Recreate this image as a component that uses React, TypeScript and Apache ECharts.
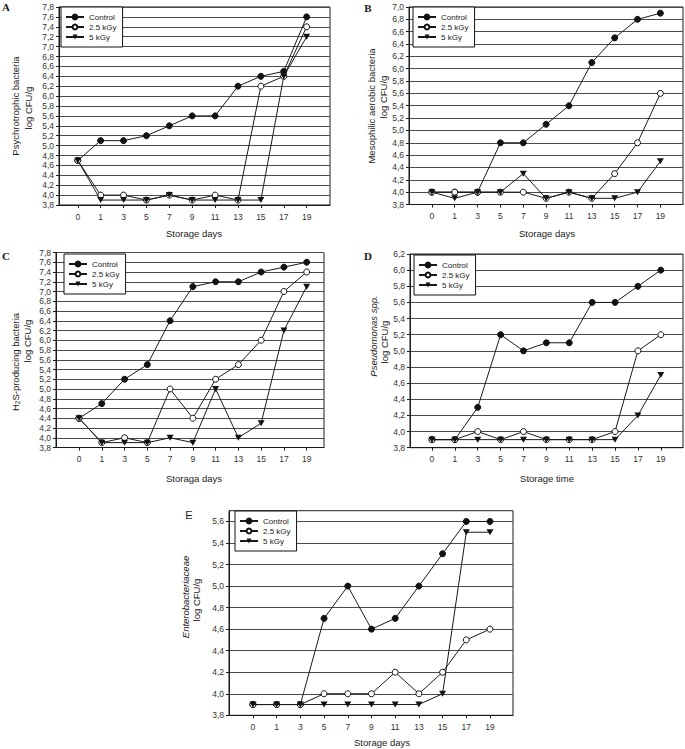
import React, { useEffect, useRef } from "react";
import * as echarts from "echarts";

// ---------- data ----------
const days = ["0", "1", "3", "5", "7", "9", "11", "13", "15", "17", "19"];
const seriesNames = ["Control", "2.5 kGy", "5 kGy"];

// A: Psychrotrophic bacteria
const aControl = [4.7, 5.1, 5.1, 5.2, 5.4, 5.6, 5.6, 6.2, 6.4, 6.5, 7.6];
const a25 = [4.7, 4.0, 4.0, 3.9, 4.0, 3.9, 4.0, 3.9, 6.2, 6.4, 7.4];
const a5 = [4.7, 3.9, 3.9, 3.9, 4.0, 3.9, 3.9, 3.9, 3.9, 6.4, 7.2];

// B: Mesophilic aerobic bacteria
const bControl = [4.0, 4.0, 4.0, 4.8, 4.8, 5.1, 5.4, 6.1, 6.5, 6.8, 6.9];
const b25 = [4.0, 4.0, 4.0, 4.0, 4.0, 3.9, 4.0, 3.9, 4.3, 4.8, 5.6];
const b5 = [4.0, 3.9, 4.0, 4.0, 4.3, 3.9, 4.0, 3.9, 3.9, 4.0, 4.5];

// C: H2S-producing bacteria
const cControl = [4.4, 4.7, 5.2, 5.5, 6.4, 7.1, 7.2, 7.2, 7.4, 7.5, 7.6];
const c25 = [4.4, 3.9, 4.0, 3.9, 5.0, 4.4, 5.2, 5.5, 6.0, 7.0, 7.4];
const c5 = [4.4, 3.9, 3.9, 3.9, 4.0, 3.9, 5.0, 4.0, 4.3, 6.2, 7.1];

// D: Pseudomonas spp.
const dControl = [3.9, 3.9, 4.3, 5.2, 5.0, 5.1, 5.1, 5.6, 5.6, 5.8, 6.0];
const d25 = [3.9, 3.9, 4.0, 3.9, 4.0, 3.9, 3.9, 3.9, 4.0, 5.0, 5.2];
const d5 = [3.9, 3.9, 3.9, 3.9, 3.9, 3.9, 3.9, 3.9, 3.9, 4.2, 4.7];

// E: Enterobacteriaceae
const eControl = [3.9, 3.9, 3.9, 4.7, 5.0, 4.6, 4.7, 5.0, 5.3, 5.6, 5.6];
const e25 = [3.9, 3.9, 3.9, 4.0, 4.0, 4.0, 4.2, 4.0, 4.2, 4.5, 4.6];
const e5 = [3.9, 3.9, 3.9, 3.9, 3.9, 3.9, 3.9, 3.9, 4.0, 5.5, 5.5];

// axis ranges
const yRangeA = [3.8, 7.8];
const yRangeB = [3.8, 7.0];
const yRangeC = [3.8, 7.8];
const yRangeD = [3.8, 6.2];
const yRangeE = [3.8, 5.7];
const yStep = 0.2;

const xTitleA = "Storage days";
const xTitleB = "Storage days";
const xTitleC = "Storaga days";
const xTitleD = "Storage time";
const xTitleE = "Storage days";

// ---------- styling / layout ----------
const SANS = '"Liberation Sans", Arial, Helvetica, sans-serif';
const SERIF = '"Liberation Serif", "Times New Roman", serif';
const INK = "#1a1a1a";
const GRID = "#4a4a4a";

type Panel = {
  grid: { left: number; top: number; width: number; height: number };
  xMin: number;
  xMax: number;
  yRange: number[];
  values: number[][];
  legendPos: { left: number; top: number };
  showMaxY: boolean;
};

const panels: Panel[] = [
  {
    grid: { left: 59, top: 7, width: 271, height: 198 },
    xMin: -0.82, xMax: 11.02, yRange: yRangeA,
    values: [aControl, a25, a5], legendPos: { left: 61, top: 7 }, showMaxY: true,
  },
  {
    grid: { left: 409, top: 7, width: 274, height: 197.5 },
    xMin: -1.0, xMax: 10.99, yRange: yRangeB,
    values: [bControl, b25, b5], legendPos: { left: 413, top: 7 }, showMaxY: true,
  },
  {
    grid: { left: 56, top: 252.5, width: 268, height: 195 },
    xMin: -1.01, xMax: 10.76, yRange: yRangeC,
    values: [cControl, c25, c5], legendPos: { left: 64, top: 254 }, showMaxY: true,
  },
  {
    grid: { left: 410, top: 254, width: 273, height: 193.7 },
    xMin: -0.96, xMax: 10.97, yRange: yRangeD,
    values: [dControl, d25, d5], legendPos: { left: 414, top: 255 }, showMaxY: true,
  },
  {
    grid: { left: 229, top: 510.7, width: 284, height: 204.6 },
    xMin: -1.01, xMax: 10.97, yRange: yRangeE,
    values: [eControl, e25, e5], legendPos: { left: 235, top: 511 }, showMaxY: false,
  },
];

const symbolStyles = [
  { symbol: "circle", symbolSize: 6, itemStyle: { color: "#111", borderColor: "#111", borderWidth: 1 } },
  { symbol: "circle", symbolSize: 6, itemStyle: { color: "#fff", borderColor: "#111", borderWidth: 1 } },
  { symbol: "path://M0,0L10,0L5,9Z", symbolSize: [7, 6], itemStyle: { color: "#111", borderColor: "#111", borderWidth: 0 } },
];

const fmtY = (v: number) => v.toFixed(1).replace(".", ",");
const idx = days.map((_, i) => i);

function txt(x: number, y: number, text: string, extra: any = {}, rot = 0) {
  return {
    type: "text",
    x,
    y,
    rotation: rot,
    silent: true,
    z: 20,
    style: {
      text,
      fill: INK,
      fontFamily: SANS,
      fontSize: 9.5,
      align: "center",
      verticalAlign: "middle",
      textAlign: "center",
      textVerticalAlign: "middle",
      ...extra,
    },
  };
}

function buildOption() {
  const grids: any[] = [];
  const xAxes: any[] = [];
  const yAxes: any[] = [];
  const series: any[] = [];
  const legends: any[] = [];

  panels.forEach((p, pi) => {
    grids.push({ ...p.grid, show: true, borderColor: INK, borderWidth: 1, backgroundColor: "transparent" });
    xAxes.push({
      type: "value",
      gridIndex: pi,
      min: p.xMin,
      max: p.xMax,
      axisLine: { show: true, onZero: false, lineStyle: { color: INK, width: 1 } },
      axisTick: { show: true, customValues: idx, length: 3, lineStyle: { color: INK } },
      axisLabel: {
        show: true,
        customValues: idx,
        formatter: (v: number) => days[Math.round(v)] ?? "",
        fontFamily: SANS,
        fontSize: 8.5,
        color: "#333",
        margin: 7,
      },
      splitLine: { show: false },
    });
    yAxes.push({
      type: "value",
      gridIndex: pi,
      min: p.yRange[0],
      max: p.yRange[1],
      interval: yStep,
      axisLine: { show: true, onZero: false, lineStyle: { color: INK, width: 1 } },
      axisTick: { show: true, length: 3, lineStyle: { color: INK } },
      axisLabel: {
        formatter: fmtY,
        fontFamily: SANS,
        fontSize: 8.5,
        color: "#333",
        margin: 5,
        showMaxLabel: p.showMaxY,
      },
      splitLine: { show: true, lineStyle: { color: GRID, width: 1 } },
    });
    seriesNames.forEach((name, si) => {
      series.push({
        type: "line",
        name,
        xAxisIndex: pi,
        yAxisIndex: pi,
        data: p.values[si].map((v, i) => [i, v]),
        ...symbolStyles[si],
        showSymbol: true,
        lineStyle: { color: INK, width: 1 },
        z: 3 + si,
        emphasis: { disabled: true },
      });
    });
    legends.push({
      left: p.legendPos.left,
      top: p.legendPos.top,
      orient: "vertical",
      backgroundColor: "#ffffff",
      borderColor: "#111111",
      borderWidth: 1,
      borderRadius: 0,
      padding: [5, 6, 5, 4],
      itemWidth: 18,
      itemHeight: 6,
      itemGap: 0,
      selectedMode: false,
      textStyle: { fontFamily: SANS, fontSize: 8, color: INK, lineHeight: 10 },
      data: seriesNames,
      z: 10,
    });
  });

  const sub = {
    n: { fontFamily: SANS, fontSize: 9.5, fill: INK, lineHeight: 12, verticalAlign: "middle" },
    s: { fontFamily: SANS, fontSize: 6.5, fill: INK, lineHeight: 12, verticalAlign: "bottom", padding: [4, 0, 0, 0] },
    i: { fontFamily: SANS, fontSize: 9.5, fill: INK, fontStyle: "italic" },
  };
  const R = Math.PI / 2;

  const graphics: any[] = [
    // panel letters
    txt(6, 7, "A", { fontFamily: SERIF, fontWeight: "bold", fontSize: 11 }),
    txt(368, 8, "B", { fontFamily: SERIF, fontWeight: "bold", fontSize: 11 }),
    txt(6, 256, "C", { fontFamily: SERIF, fontWeight: "bold", fontSize: 11 }),
    txt(368, 256, "D", { fontFamily: SERIF, fontWeight: "bold", fontSize: 11 }),
    txt(189, 515, "E", { fontFamily: SANS, fontSize: 11 }),
    // y titles
    txt(15, 106, "Psychrotrophic bacteria", {}, R),
    txt(28, 108, "log CFU/g", {}, R),
    txt(371, 106, "Mesophilic aerobic bacteria", {}, R),
    txt(383, 97, "log CFU/g", {}, R),
    txt(15, 362, "{n|H}{s|2}{n|S-producing bacteria}", { rich: sub }, R),
    txt(27, 341, "log CFU/g", {}, R),
    txt(373, 336, "{i|Pseudomonas}{n| }{i|spp.}", { rich: sub }, R),
    txt(384, 342, "log CFU/g", {}, R),
    txt(185, 597, "Enterobacteriaceae", { fontStyle: "italic" }, R),
    txt(196, 600, "log CFU/g", {}, R),
    // x titles
    txt(194, 233, xTitleA),
    txt(547, 233, xTitleB),
    txt(194, 478, xTitleC),
    txt(547, 478, xTitleD),
    txt(382, 742, xTitleE),
  ];

  return {
    animation: false,
    backgroundColor: "#fff",
    grid: grids,
    xAxis: xAxes,
    yAxis: yAxes,
    legend: legends,
    series,
    graphic: graphics,
    tooltip: { show: false },
  };
}

export default function App() {
  const ref = useRef<HTMLDivElement>(null);
  useEffect(() => {
    document.body.style.margin = "0";
    document.body.style.padding = "0";
    document.documentElement.style.margin = "0";
    if (!ref.current) return;
    const chart = echarts.init(ref.current, null, { renderer: "svg" });
    chart.setOption(buildOption() as any);
    return () => chart.dispose();
  }, []);
  return <div ref={ref} style={{ width: 685, height: 749, background: "#fff" }} />;
}
